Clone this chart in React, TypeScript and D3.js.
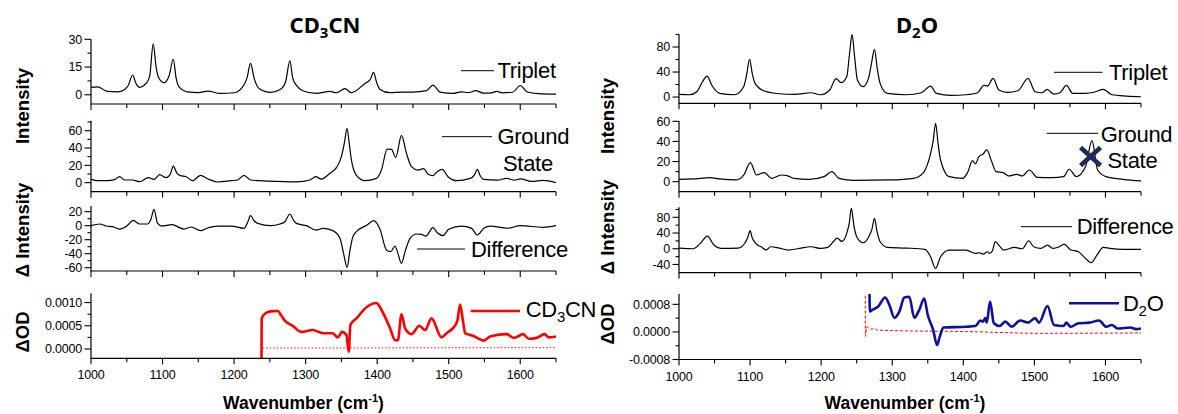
import * as d3 from 'd3';
import React from 'react';

type Pt = [number, number];

// wavenumber axis shared by every panel
const wnDomain: Pt = [1000, 1650];
const wnMajor = [1000, 1100, 1200, 1300, 1400, 1500, 1600];
const wnMinor = [1050, 1150, 1250, 1350, 1450, 1550, 1650];

// ---- CD3CN (left) ----
const cd3cnTriplet: Pt[] = [
  [1000, 4.0], [1009, 4.3], [1023, 1.8], [1037, 1.6], [1047, 2.9], [1052, 5], [1058, 10.7], [1063, 6],
  [1068, 4.0], [1077, 6.1], [1082, 10], [1087, 27.5], [1091, 15], [1095, 8.9], [1102, 6.5], [1109, 10],
  [1115, 19.2], [1119, 9], [1123, 4.3], [1135, 1.6], [1150, 1.2], [1163, 2.0], [1181, 0.7], [1200, 1.1],
  [1212, 4.3], [1218, 9], [1223, 17], [1228, 9], [1235, 3.4], [1251, 1.3], [1265, 3], [1272, 7],
  [1278, 18.3], [1282, 9], [1287, 5.2], [1296, 2.2], [1315, 0.7], [1334, 1.8], [1343, 1.1], [1355, 3.3],
  [1364, 1.1], [1383, 6.1], [1390, 8], [1395, 12.1], [1399, 7], [1404, 2.9], [1418, 1.1], [1434, 1.4],
  [1450, 1.4], [1469, 2.2], [1478, 5.2], [1488, 1.4], [1506, 0.7], [1518, 1.6], [1527, 1.1], [1538, 2.2],
  [1548, 0.9], [1560, 1.0], [1567, 1.8], [1575, 1.0], [1590, 1.5], [1600, 5.0], [1610, 1.5], [1625, 0.6],
  [1650, 0.3],
];
const cd3cnGround: Pt[] = [
  [1000, 4.2], [1009, 2.3], [1023, 2.3], [1033, 3.5], [1040, 6.9], [1047, 3.1], [1058, 3.1], [1068, 1.2],
  [1080, 5.8], [1088, 3.8], [1096, 9.2], [1105, 5.8], [1111, 10], [1115, 19.2], [1120, 11], [1125, 8.1],
  [1133, 6.9], [1142, 2.3], [1153, 8.5], [1163, 4.6], [1177, 0.8], [1196, 2.3], [1205, 3.1], [1214, 8.5],
  [1223, 3.1], [1247, 1.9], [1270, 1.2], [1287, 1.0], [1306, 3.1], [1314, 6.9], [1322, 4.2], [1334, 10.8],
  [1343, 17.3], [1350, 30], [1354, 45], [1358, 62.3], [1361, 45], [1364, 26.2], [1371, 8.5], [1383, 2.3],
  [1399, 5.0], [1406, 14.6], [1414, 38.8], [1420, 38.5], [1426, 29.2], [1434, 54.6], [1441, 33.8],
  [1448, 18.5], [1457, 14.6], [1465, 16.2], [1471, 10], [1478, 8.1], [1484, 12.7], [1491, 15.4],
  [1499, 6.9], [1511, 2.3], [1530, 5], [1536, 9], [1540, 15.4], [1544, 8], [1549, 3.8], [1568, 3],
  [1581, 5.0], [1592, 3], [1600, 4.3], [1616, 1.5], [1632, 2.7], [1650, 0],
];
const cd3cnDiff: Pt[] = [
  [1000, 0], [1012, 2.4], [1021, -0.5], [1030, -1.4], [1040, -4.8], [1051, 0.5], [1059, 7.6], [1068, 2.4],
  [1079, 2.4], [1084, 10], [1088, 23.3], [1093, 3.3], [1099, -0.5], [1113, 1.4], [1130, -4.8], [1140, -1.9],
  [1153, -7.1], [1163, -3.3], [1177, -0.5], [1196, -0.5], [1214, -3.8], [1219, 5], [1223, 14.3], [1228, 7],
  [1233, 3.3], [1251, 0], [1264, 2.4], [1271, 5.7], [1278, 16.7], [1283, 8], [1287, 3.3], [1301, 0],
  [1315, -6.2], [1324, -3.8], [1338, -7.1], [1348, -18], [1353, -39.5], [1358, -59.5], [1362, -35],
  [1366, -16], [1371, -8.6], [1386, 1], [1395, 7.1], [1404, -5.2], [1413, -34.7], [1419, -37.1],
  [1425, -29], [1429, -39.5], [1434, -53.8], [1439, -37.1], [1446, -18], [1455, -11.9], [1462, -12.4],
  [1468, -14.8], [1478, -2.9], [1484, -10], [1492, -14.3], [1500, -5.2], [1518, -0.5], [1532, -3.8],
  [1540, -13.3], [1549, -3.8], [1558, -0.5], [1582, -3.7], [1600, 0], [1632, -2.3], [1650, 0],
];
const cd3cnOD: Pt[] = [
  [1238.3, -0.00025], [1238.6, 0.00066], [1244, 0.00077], [1251, 0.00081], [1261, 0.00082], [1266, 0.00072],
  [1271, 0.00061], [1282, 0.0005], [1294, 0.00037], [1310, 0.00041], [1324, 0.00034], [1338, 0.00034],
  [1345, 0.00025], [1351, 0.00037], [1357, 0.0003], [1360.3, -0.00006], [1362.6, 0.00052], [1371, 0.00066],
  [1386, 0.00091], [1399, 0.00099], [1406, 0.00084], [1418, 0.00045], [1425, 0.00019], [1429, 0.00019],
  [1434, 0.00075], [1439, 0.00045], [1448, 0.00032], [1459, 0.0005], [1467, 0.00041], [1476, 0.00066],
  [1490, 0.00025], [1497, 0.00034], [1506, 0.00045], [1512, 0.0006], [1516, 0.00096], [1520, 0.0006],
  [1523, 0.00034], [1535, 0.00028], [1540, 0.00024], [1549, 0.00018], [1558, 0.00027], [1581, 0.00032],
  [1591, 0.00024], [1604, 0.00032], [1612, 0.00022], [1623, 0.00024], [1634, 0.00032], [1640, 0.00025],
  [1650, 0.00027],
];
const cd3cnODRef: Pt[] = [[1240, 0.00002], [1650, 0.00003]];

// ---- D2O (right) ----
const d2oTriplet: Pt[] = [
  [1000, 4.3], [1015, 3.7], [1025, 8.5], [1033, 24.5], [1039.5, 33.6], [1046, 19.2], [1057, 5.9], [1078, 3.7],
  [1091, 16.5], [1095, 35], [1099.4, 60.3], [1103, 38], [1107, 21.9], [1120, 9.6], [1141, 5.3], [1162, 4.3],
  [1186, 6.9], [1199, 3.7], [1212, 11.2], [1221, 29.3], [1228, 22.9], [1236, 32.5], [1240, 70],
  [1243.5, 100.3], [1247, 65], [1251, 27.2], [1259, 16.5], [1267, 31.5], [1271, 55], [1275, 76.3],
  [1279, 45], [1283, 21.9], [1293, 5.9], [1320, 3.7], [1341, 6.9], [1354, 17.6], [1362, 5.9], [1383, 2.7],
  [1404, 3.7], [1420, 6.9], [1429, 18.7], [1434, 17.6], [1442, 29.9], [1450, 11.2], [1462, 7.5],
  [1477, 10.1], [1491, 29.9], [1501, 8.5], [1511, 6.9], [1518, 12.3], [1527, 4.8], [1536, 6.9],
  [1545, 18.7], [1554, 5.9], [1572, 5.9], [1585, 8], [1597, 12.3], [1609, 3.7], [1630, 1.6], [1650, 0.5],
];
const d2oGround: Pt[] = [
  [1000, 2.3], [1020, 2.7], [1044, 4], [1057, 2.7], [1080, 1.7], [1091, 6.6], [1100.5, 18.9], [1109, 6.6],
  [1120, 9], [1130, 3.3], [1144, 6.6], [1152, 6], [1162, 3.3], [1183, 2.3], [1204, 5], [1215, 10],
  [1225, 3.3], [1246, 1.3], [1299, 1.7], [1330, 3.3], [1343, 8.3], [1354, 28.2], [1357.5, 40], [1361, 58],
  [1364.5, 38], [1368, 21.5], [1380, 5], [1399, 3.3], [1406, 9], [1413, 20.9], [1417, 17.6], [1422, 24.9],
  [1428, 27.5], [1433, 31.5], [1440, 19.9], [1446, 10], [1456, 9], [1464, 5.6], [1475, 7.3], [1483, 5.6],
  [1493, 11.6], [1504, 4.3], [1525, 4], [1541, 5], [1549, 12.3], [1559, 5], [1572, 15], [1581, 40.8],
  [1589, 11.6], [1601, 5], [1625, 2.3], [1650, 0.7],
];
const d2oDiff: Pt[] = [
  [1000, 1.7], [1020, 0], [1030, 13.6], [1040, 32.3], [1049, 9.4], [1059, 0.9], [1083, 1.7], [1093, 15.3],
  [1097, 30], [1100, 46], [1103, 28], [1108, 13.6], [1117, 3.4], [1122.5, -3.4], [1129, 5.1], [1141, 1.7],
  [1154, -3.4], [1167, 0], [1186, 5.1], [1199, 0.9], [1209, 3.4], [1217, 17.9], [1222.5, 27.2], [1229, 18.7],
  [1236, 39.1], [1239.5, 65], [1242.5, 103], [1246, 60], [1250, 30.6], [1259, 15.3], [1267, 30.6],
  [1271.5, 50], [1275, 77.4], [1278.5, 45], [1283, 17.9], [1293.5, 3.4], [1320, 1.7], [1346, -1.7],
  [1354, -20.4], [1361, -50.2], [1368, -20.4], [1380, -3.4], [1404, -3.4], [1417, -11.9], [1422, -10.2],
  [1428, -13.6], [1434, -7.7], [1437, -11.9], [1441, -5.1], [1445, 17.9], [1451, 6.8], [1456.5, -3.4],
  [1472, 3.4], [1483, 0], [1492, 20.4], [1499, 5.1], [1509, 0.9], [1518.5, 9.4], [1526, 0.9], [1535, 5.1],
  [1542, 11.9], [1550, -1.7], [1562, -7.7], [1572, -24.7], [1580, -35.7], [1588, -16.2], [1597, 3.4],
  [1606, 0.9], [1625, -1.7], [1650, -1.7],
];
const d2oOD: Pt[] = [
  [1268, 0.0012], [1268.5, 0.00059], [1272, 0.00064], [1280, 0.00073], [1290, 0.001], [1296, 0.00078],
  [1303, 0.00041], [1310, 0.00059], [1317, 0.001], [1324, 0.00102], [1331, 0.00041], [1338, 0.00064],
  [1345, 0.00097], [1350, 0.00049], [1357.6, 0.00006], [1363, -0.00038], [1367, -0.00013], [1372, 0.00013],
  [1404, 0.00015], [1417, 0.00017], [1424, 0.00033], [1427.6, 0.0003], [1431, 0.0004], [1433, 0.00027],
  [1437.6, 0.00088], [1443, 0.00025], [1451, 0.00017], [1459, 0.0003], [1468, 0.00015], [1480, 0.00033],
  [1491, 0.00027], [1501, 0.0004], [1506.5, 0.00027], [1518.5, 0.00075], [1527.5, 0.0002], [1541, 0.00017],
  [1545, 0.00027], [1551, 0.00015], [1562, 0.00025], [1577.5, 0.00027], [1591, 0.00033], [1601, 0.00015],
  [1609, 0.0002], [1617, 0.0001], [1635, 0.00013], [1643, 0.00008], [1650, 0.0001],
];
const d2oODRef: Pt[] = [
  [1262, 0.0012], [1262.3, -0.00013], [1264, 0.00015], [1270, 0.00008], [1275, 0.0001], [1278, 0.00006],
  [1299, 0.00004], [1404, 0.00001], [1509, -0.00004], [1650, -0.00003],
];
const d2oCross: Pt[] = [[1579, 25]];

// y tick values
const ticksL1 = { major: [0, 15, 30], minor: [7.5, 22.5] };
const ticksL2 = { major: [0, 20, 40, 60], minor: [10, 30, 50, 70] };
const ticksL3 = { major: [-60, -40, -20, 0, 20], minor: [-50, -30, -10, 10] };
const ticksL4 = { major: [0, 0.0005, 0.001], minor: [0.00025, 0.00075] };
const ticksR1 = { major: [0, 40, 80], minor: [20, 60, 100] };
const ticksR2 = { major: [0, 20, 40, 60], minor: [10, 30, 50] };
const ticksR3 = { major: [-40, 0, 40, 80], minor: [-20, 20, 60, 100] };
const ticksR4 = { major: [-0.0008, 0, 0.0008], minor: [-0.0004, 0.0004] };

const FONT = '"Liberation Sans", Arial, sans-serif';
const RED = '#ff0000';
const NAVY = '#10109c';

const intFmt = (v: number) => String(v);
const odFmt = (v: number) => v.toFixed(4);

type Series = { data: Pt[]; color: string; width: number; dash?: string };

function Panel({ id, xr, yr, domain, ticks, fmt, series, xLabels }: {
  id: string; xr: Pt; yr: Pt; domain: Pt; ticks: { major: number[]; minor: number[] };
  fmt: (v: number) => string; series: Series[]; xLabels?: boolean;
}) {
  const x = d3.scaleLinear().domain(wnDomain).range(xr);
  const y = d3.scaleLinear().domain(domain).range(yr);
  const line = d3.line<Pt>().x(d => x(d[0])).y(d => y(d[1])).curve(d3.curveMonotoneX);
  const [x0, x1] = xr;
  const [bottom, top] = yr;
  return (
    <g>
      <clipPath id={id}>
        <rect x={x0} y={top} width={x1 - x0} height={bottom - top} />
      </clipPath>
      <g clipPath={`url(#${id})`}>
        {series.map((s, i) => (
          <path key={i} d={line(s.data) || ''} fill="none" stroke={s.color}
            strokeWidth={s.width} strokeDasharray={s.dash} strokeLinejoin="round" />
        ))}
      </g>
      <line x1={x0} x2={x0} y1={top} y2={bottom + 0.6} stroke="#000" strokeWidth={1.2} />
      <line x1={x0} x2={x1} y1={bottom} y2={bottom} stroke="#000" strokeWidth={1.2} />
      {ticks.major.map(t => (
        <g key={'ym' + t}>
          <line x1={x0 - 6.5} x2={x0} y1={y(t)} y2={y(t)} stroke="#000" strokeWidth={1.1} />
          <text x={x0 - 9} y={y(t)} dy="0.35em" textAnchor="end" fontSize={12.5}
            fontFamily={FONT} letterSpacing={-0.2}>{fmt(t)}</text>
        </g>
      ))}
      {ticks.minor.map(t => (
        <line key={'yn' + t} x1={x0 - 3.5} x2={x0} y1={y(t)} y2={y(t)} stroke="#000" strokeWidth={1.1} />
      ))}
      {wnMajor.map(t => (
        <g key={'xm' + t}>
          <line x1={x(t)} x2={x(t)} y1={bottom} y2={bottom + 6} stroke="#000" strokeWidth={1.1} />
          {xLabels && (
            <text x={x(t)} y={bottom + 21} textAnchor="middle" fontSize={12.5}
              fontFamily={FONT} letterSpacing={-0.2}>{t}</text>
          )}
        </g>
      ))}
      {wnMinor.map(t => (
        <line key={'xn' + t} x1={x(t)} x2={x(t)} y1={bottom} y2={bottom + 4} stroke="#000" strokeWidth={1.1} />
      ))}
    </g>
  );
}

function Legend({ x1, x2, y, tx, ty, color = '#000', w = 1, children }: any) {
  return (
    <g>
      <line x1={x1} x2={x2} y1={y} y2={y} stroke={color} strokeWidth={w} />
      <text x={tx} y={ty} fontSize={22} fontFamily={FONT} letterSpacing={-0.3}>{children}</text>
    </g>
  );
}

function YTitle({ x, y, children }: any) {
  return (
    <text transform={`translate(${x},${y}) rotate(-90)`} textAnchor="middle" fontSize={18.5}
      fontWeight="bold" fontFamily={FONT}>{children}</text>
  );
}

export default function App() {
  const L: Pt = [91, 556];
  const R: Pt = [679, 1141];
  const blk = (data: Pt[]): Series => ({ data, color: '#000', width: 1.2 });
  const xR = d3.scaleLinear().domain(wnDomain).range(R);
  const yR2 = d3.scaleLinear().domain([-10, 60.3]).range([191.7, 121]);
  return (
    <svg width={1178} height={414} style={{ position: 'absolute', left: 0, top: 0, background: '#fff' }}>
      {/* left: CD3CN */}
      <Panel id="l1" xr={L} yr={[104, 39.3]} domain={[-5, 30]} ticks={ticksL1} fmt={intFmt} series={[blk(cd3cnTriplet)]} />
      <Panel id="l2" xr={L} yr={[191.7, 120.7]} domain={[-10.4, 71.5]} ticks={ticksL2} fmt={intFmt} series={[blk(cd3cnGround)]} />
      <Panel id="l3" xr={L} yr={[271, 206]} domain={[-64.7, 28.1]} ticks={ticksL3} fmt={intFmt} series={[blk(cd3cnDiff)]} />
      <Panel id="l4" xr={L} yr={[358.3, 293.3]} domain={[-0.0002, 0.0012]} ticks={ticksL4} fmt={odFmt} xLabels
        series={[{ data: cd3cnODRef, color: RED, width: 1, dash: '1.5 2' }, { data: cd3cnOD, color: RED, width: 2.6 }]} />

      {/* right: D2O */}
      <Panel id="r1" xr={R} yr={[103.3, 34.3]} domain={[-10, 100.3]} ticks={ticksR1} fmt={intFmt} series={[blk(d2oTriplet)]} />
      <Panel id="r2" xr={R} yr={[191.7, 121]} domain={[-10, 60.3]} ticks={ticksR2} fmt={intFmt} series={[blk(d2oGround)]} />
      <Panel id="r3" xr={R} yr={[272.7, 207.3]} domain={[-61, 105.5]} ticks={ticksR3} fmt={intFmt} series={[blk(d2oDiff)]} />
      <Panel id="r4" xr={R} yr={[359.5, 294]} domain={[-0.0008, 0.0011]} ticks={ticksR4} fmt={odFmt} xLabels
        series={[{ data: d2oODRef, color: RED, width: 1, dash: '3 2' }, { data: d2oOD, color: NAVY, width: 2.6 }]} />

      {d2oCross.map(([w, v], i) => {
        const cx = xR(w), cy = yR2(v);
        return (
          <path key={i} d={`M${cx - 10},${cy - 9}L${cx + 10},${cy + 9}M${cx - 10},${cy + 9}L${cx + 10},${cy - 9}`}
            stroke="#1c2a5c" strokeWidth={4.5} fill="none" />
        );
      })}

      {/* titles */}
      <text x={325} y={33} textAnchor="middle" fontSize={22} fontWeight="bold" fontFamily='"Noto Sans", sans-serif'>
        CD<tspan dy={5} fontSize={15}>3</tspan><tspan dy={-5}>CN</tspan>
      </text>
      <text x={917} y={33} textAnchor="middle" fontSize={22} fontWeight="bold" fontFamily='"Noto Sans", sans-serif'>
        D<tspan dy={5} fontSize={15}>2</tspan><tspan dy={-5}>O</tspan>
      </text>

      {/* legends */}
      <Legend x1={461} x2={494} y={70.7} tx={497.5} ty={77.5}>Triplet</Legend>
      <Legend x1={442} x2={492} y={136.7} tx={497.5} ty={143.5}>Ground</Legend>
      <text x={503} y={170.5} fontSize={22} fontFamily={FONT} letterSpacing={-0.3}>State</text>
      <Legend x1={417} x2={465} y={249} tx={471} ty={256.5}>Difference</Legend>
      <Legend x1={470.7} x2={520} y={311} tx={525.7} ty={316.7} color={RED} w={2.6}>
        CD<tspan dy={5} fontSize={15}>3</tspan><tspan dy={-5}>CN</tspan>
      </Legend>

      <Legend x1={1054} x2={1102.6} y={72.3} tx={1109} ty={80}>Triplet</Legend>
      <Legend x1={1046.7} x2={1098} y={133.3} tx={1100.7} ty={141.5}>Ground</Legend>
      <text x={1107.5} y={167.5} fontSize={22} fontFamily={FONT} letterSpacing={-0.3}>State</text>
      <Legend x1={1021} x2={1072} y={226.7} tx={1076.7} ty={234}>Difference</Legend>
      <Legend x1={1069} x2={1119} y={303.3} tx={1123} ty={310.7} color={NAVY} w={2.6}>
        D<tspan dy={5} fontSize={15}>2</tspan><tspan dy={-5}>O</tspan>
      </Legend>

      {/* axis titles */}
      <YTitle x={29} y={106}>Intensity</YTitle>
      <YTitle x={29} y={230}>Δ Intensity</YTitle>
      <YTitle x={29} y={332}>ΔOD</YTitle>
      <YTitle x={614} y={116}>Intensity</YTitle>
      <YTitle x={614} y={227}>Δ Intensity</YTitle>
      <YTitle x={614} y={324}>ΔOD</YTitle>

      <text x={303.5} y={409} textAnchor="middle" fontSize={17.5} fontWeight="bold" fontFamily={FONT}>
        Wavenumber (cm<tspan dy={-7} fontSize={11}>-1</tspan><tspan dy={7}>)</tspan>
      </text>
      <text x={905} y={409} textAnchor="middle" fontSize={17.5} fontWeight="bold" fontFamily={FONT}>
        Wavenumber (cm<tspan dy={-7} fontSize={11}>-1</tspan><tspan dy={7}>)</tspan>
      </text>
    </svg>
  );
}
